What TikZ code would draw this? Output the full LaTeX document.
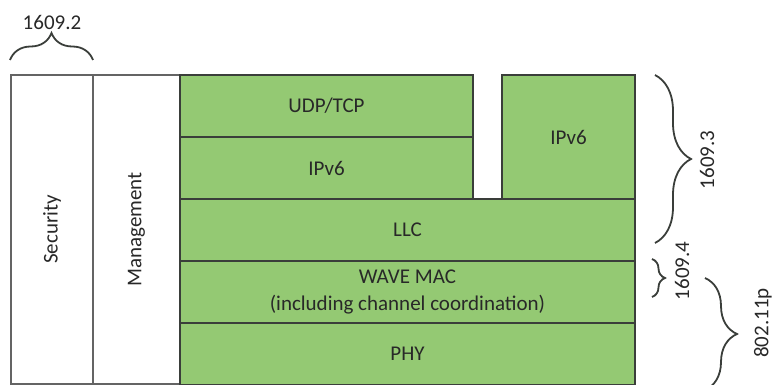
\documentclass[tikz,border=0pt]{standalone}
\usepackage{fontspec}
\setmainfont{Carlito}
\usetikzlibrary{decorations.pathreplacing}
\definecolor{layergreen}{RGB}{148,201,115}
\definecolor{edgedark}{RGB}{58,62,58}
\definecolor{edgegray}{RGB}{100,100,100}
\definecolor{txt}{RGB}{40,40,40}
\tikzset{
  base/.style={inner sep=0pt, outer sep=0pt, anchor=north west, text=txt,
    font=\fontsize{21}{27}\selectfont, align=center},
  layer/.style={base, draw=edgedark, fill=layergreen, line width=2.2pt},
  side/.style={base, draw=edgegray, fill=white, line width=2pt},
  bracepath/.style={draw=edgedark, line width=1.8pt, decorate},
  bracelabel/.style={text=txt, font=\fontsize{21}{25}\selectfont, inner sep=0pt}
}
\begin{document}
\begin{tikzpicture}[x=1pt,y=-1pt]
\useasboundingbox (0,0) rectangle (776,385);
% white side columns
\node[side, minimum width=82pt, minimum height=309pt] (sec) at (11,75) {};
\node[rotate=90, text=txt, font=\fontsize{21}{27}\selectfont] (sectxt) at (sec.center) {Security};
\node[side, minimum width=87pt, minimum height=309pt] (mgmt) at (93,75) {};
\node[rotate=90, text=txt, font=\fontsize{21}{27}\selectfont] (mgmttxt) at (mgmt.center) {Management};
% green layers
\node[layer, minimum width=293pt, minimum height=62pt] (udp) at (180,75) {UDP/TCP};
\node[layer, minimum width=293pt, minimum height=62pt] (ipl) at (180,137) {IPv6};
\node[layer, minimum width=133pt, minimum height=124pt] (ipr) at (502,75) {IPv6};
\node[layer, minimum width=455pt, minimum height=62pt] (llc) at (180,199) {LLC};
\node[layer, minimum width=455pt, minimum height=62pt] (mac) at (180,261) {WAVE MAC\\(including channel coordination)};
\node[layer, minimum width=455pt, minimum height=62pt] (phy) at (180,323) {PHY};
% brace anchor points
\coordinate (b2a) at (10,60);
\coordinate (b2b) at (93,60);
\coordinate (b3a) at (655,75);
\coordinate (b3b) at (655,243);
\coordinate (b4a) at (652,259);
\coordinate (b4b) at (652,297);
\coordinate (b5a) at (705,278);
\coordinate (b5b) at (705,390);
% braces
\draw[bracepath, decoration={brace, amplitude=27pt}] (b2a) -- (b2b);
\draw[bracepath, decoration={brace, amplitude=36pt}] (b3a) -- (b3b);
\draw[bracepath, decoration={brace, amplitude=13pt}] (b4a) -- (b4b);
\draw[bracepath, decoration={brace, amplitude=32pt}] (b5a) -- (b5b);
% brace labels
\node[bracelabel] (l2) at (52,22) {1609.2};
\node[bracelabel, rotate=90] (l3) at (707,160) {1609.3};
\node[bracelabel, rotate=90] (l4) at (682,271) {1609.4};
\node[bracelabel, rotate=90] (l5) at (763,323) {802.11p};
\end{tikzpicture}
\end{document}
